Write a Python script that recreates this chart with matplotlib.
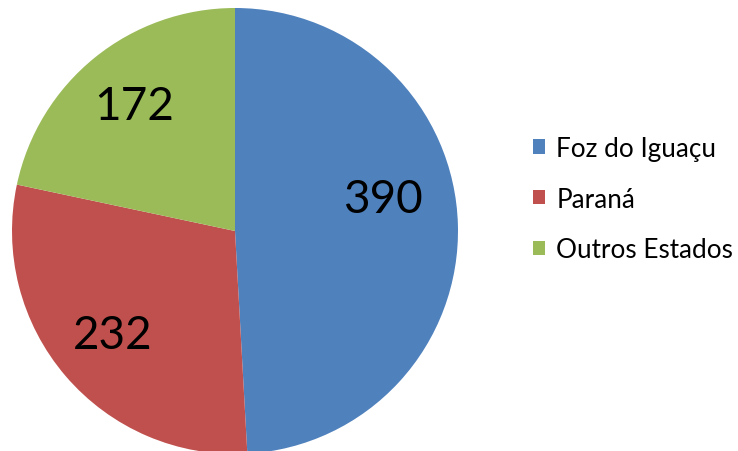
import numpy as np
import matplotlib.pyplot as plt

plt.rcParams['font.family'] = ['Lato', 'DejaVu Sans']

labels = ['Foz do Iguaçu', 'Paraná', 'Outros Estados']
values = [390, 232, 172]
colors = ['#4F81BD', '#C0504D', '#9BBB59']

fig = plt.figure(figsize=(7.38, 4.52), dpi=100)
ax = fig.add_axes([0, 0, 1, 1])

wedges, texts, autotexts = ax.pie(
    values, colors=colors, startangle=90, counterclock=False,
    center=(235, 220), radius=223,
    autopct=lambda p: '{:.0f}'.format(p * sum(values) / 100),
    pctdistance=0.72, wedgeprops=dict(linewidth=0),
    textprops=dict(fontsize=33, color='black'))

# Excel nudged the big label upward a bit
ang = np.deg2rad(12)
autotexts[0].set_position((235 + 0.68 * 223 * np.cos(ang), 220 + 0.68 * 223 * np.sin(ang)))

ax.set_xlim(0, 738)
ax.set_ylim(0, 452)
ax.set_aspect('equal')
ax.axis('off')

leg = ax.legend(wedges, labels, loc='center left', bbox_to_anchor=(0.722, 0.5575),
                frameon=False, fontsize=18.8, handlelength=0.47, handleheight=0.47,
                handletextpad=0.43, labelspacing=0.98, borderpad=0, borderaxespad=0)

fig.savefig('out.png', dpi=100)
